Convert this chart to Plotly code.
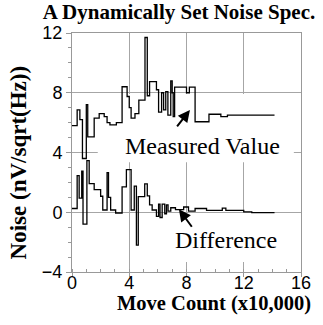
import plotly.graph_objects as go

# Measured value (step line)
meas_x = [0.0, 0.36, 0.55, 0.73, 1.0, 1.1, 1.55, 1.9, 2.25, 2.45, 2.65, 3.1, 3.5, 3.85, 4.0, 4.13,
          4.4, 4.67, 5.1, 5.26, 5.42, 5.9, 6.05, 6.26, 6.4, 6.55, 6.7, 6.9, 7.0, 7.07, 7.17, 8.0,
          8.2, 8.6, 9.57, 10.4, 10.86, 14.15]
meas_y = [5.8, 6.85, 6.2, 3.6, 7.2, 5.05, 6.3, 6.6, 6.4, 6.0, 5.85, 6.0, 8.4, 7.75, 7.0, 6.3,
          6.6, 7.5, 11.7, 7.8, 8.75, 8.2, 6.7, 8.0, 6.85, 8.07, 6.5, 8.8, 8.0, 6.4, 8.37, 8.0,
          8.37, 6.06, 6.56, 6.4, 6.5, 6.5]

# Difference (step line)
diff_x = [0.0, 0.36, 0.5, 0.68, 0.77, 1.04, 1.2, 1.55, 2.0, 2.15, 2.45, 2.55, 2.7, 3.05, 3.5,
          3.8, 4.13, 4.35, 4.5, 4.63, 5.08, 5.26, 5.42, 5.6, 5.9, 6.05, 6.15, 6.3, 6.48, 6.6,
          6.71, 6.9, 7.23, 7.8, 8.14, 8.6, 9.4, 10.5, 10.75, 12.0, 12.56, 14.15]
diff_y = [0.25, 2.45, 0.95, 2.75, -0.8, 3.45, 1.92, 1.52, 1.07, 0.15, 2.65, 1.0, 0.15, -0.05, 1.7,
          2.85, 0.15, 1.75, -2.2, 1.05, 1.9, 1.1, 0.5, 0.15, -0.28, 0.55, -0.35, 0.55, -0.1, 0.5,
          0.08, 0.3, 0.18, 0.35, 0.08, 0.25, 0.12, 0.28, 0.12, 0.02, -0.03, -0.03]

x_ticks = [0, 4, 8, 12, 16]
y_ticks = [-4, 0, 4, 8, 12]

GRID = "#a6a6a6"
AXIS = "#999999"
SERIF = "Liberation Serif, Times New Roman, serif"
SANS = "Liberation Sans, Arial, sans-serif"

fig = go.Figure()
fig.add_trace(go.Scatter(x=meas_x, y=meas_y, mode="lines", line=dict(color="black", width=1.3, shape="hv"),
                         showlegend=False))
fig.add_trace(go.Scatter(x=diff_x, y=diff_y, mode="lines", line=dict(color="black", width=1.3, shape="hv"),
                         showlegend=False))

# white label backgrounds hiding the grid (below the traces)
fig.add_shape(type="rect", x0=1.8, x1=15.5, y0=3.35, y1=7.92, layer="between",
              fillcolor="white", line=dict(width=0))
fig.add_shape(type="rect", x0=5.4, x1=15.5, y0=-3.33, y1=-0.05, layer="between",
              fillcolor="white", line=dict(width=0))

fig.add_annotation(x=9.12, y=4.43, text="Measured Value", showarrow=False,
                   font=dict(family=SERIF, size=24, color="black"))
fig.add_annotation(x=10.75, y=-1.89, text="Difference", showarrow=False,
                   font=dict(family=SERIF, size=24, color="black"))
fig.add_annotation(x=8.24, y=6.85, text="", showarrow=True, ax=-14, ay=18,
                   arrowhead=2, arrowsize=1.2, arrowwidth=2, arrowcolor="black", standoff=0)
fig.add_annotation(x=7.47, y=0.2, text="", showarrow=True, ax=14, ay=19,
                   arrowhead=2, arrowsize=1.2, arrowwidth=2, arrowcolor="black", standoff=0)

# axis titles
fig.add_annotation(xref="paper", yref="paper", x=(217.5 - 72) / 235, y=-(303 - 272) / 239,
                   text="<b>Move Count (x10,000)</b>", showarrow=False, xanchor="center", yanchor="middle",
                   font=dict(family=SERIF, size=20.5, color="black"))
fig.add_annotation(xref="paper", yref="paper", x=-(72 - 17) / 235, y=(272 - 162) / 239,
                   text="<b>Noise (nV/sqrt(Hz))</b>", showarrow=False, textangle=-90,
                   xanchor="center", yanchor="middle",
                   font=dict(family=SERIF, size=23, color="black"))

fig.update_layout(
    width=323, height=325,
    margin=dict(l=72, r=16, t=33, b=53),
    paper_bgcolor="white", plot_bgcolor="white",
    title=dict(text="<b>A Dynamically Set Noise Spec.</b>", x=179 / 323, xref="container",
               xanchor="center", y=1 - 12 / 325, yanchor="middle",
               font=dict(family=SERIF, size=21, color="black")),
    xaxis=dict(range=[0, 16], tickvals=x_ticks, showgrid=True, gridcolor=GRID, gridwidth=1,
               showline=True, linecolor=AXIS, linewidth=1, mirror=True, zeroline=False,
               ticks="outside", ticklen=4, tickcolor=AXIS, ticklabelstandoff=-10,
               minor=dict(dtick=1, tick0=0, ticks="inside", ticklen=3, tickcolor=AXIS, showgrid=False),
               tickfont=dict(family=SANS, size=18, color="black")),
    yaxis=dict(range=[-4, 12], tickvals=y_ticks, showgrid=True, gridcolor=GRID, gridwidth=1,
               showline=True, linecolor=AXIS, linewidth=1, mirror=True, zeroline=False,
               ticks="outside", ticklen=5, tickcolor=AXIS,
               minor=dict(dtick=1, tick0=0, ticks="outside", ticklen=3, tickcolor=AXIS, showgrid=False),
               tickfont=dict(family=SANS, size=18, color="black")),
)

fig.write_html("out.html")
